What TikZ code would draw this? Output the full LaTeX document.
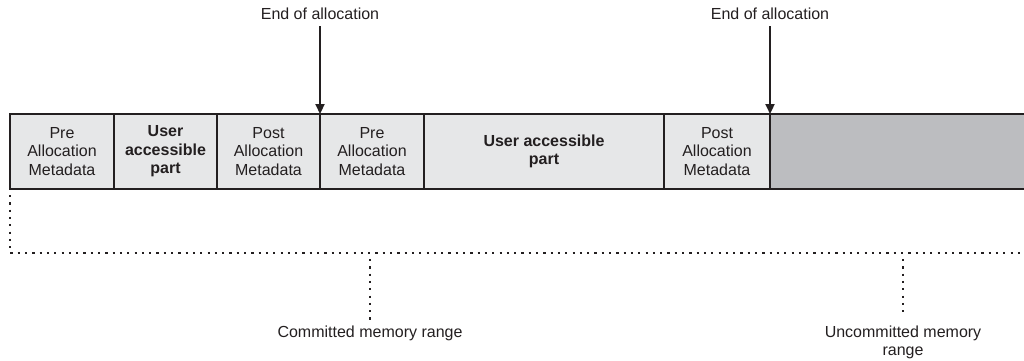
\documentclass[tikz,border=0pt]{standalone}
\usepackage{fontspec}
\setmainfont{Liberation Sans}
\usetikzlibrary{arrows.meta}
\definecolor{lightcell}{HTML}{E6E7E8}
\definecolor{darkcell}{HTML}{BCBDC0}
\definecolor{ink}{HTML}{231F20}
\begin{document}
\begin{tikzpicture}[x=1pt,y=-1pt,
  cell/.style={draw=ink,line width=2.5pt,fill=lightcell,minimum height=75pt,inner sep=0pt,outer sep=0pt,
    align=center,font=\fontsize{16}{18.5}\selectfont,text=ink},
  ucell/.style={cell,font=\fontsize{16}{18.5}\selectfont\bfseries},
  endarrow/.style={draw=ink,line width=2.2pt,-{Triangle[length=10pt,width=9pt]}},
  dotline/.style={draw=ink,line width=2.4pt,dash pattern=on 2.2pt off 5.1pt},
  lbl/.style={font=\fontsize{16}{18}\selectfont,text=ink,align=center,inner sep=0pt}]
\useasboundingbox (0,0) rectangle (1024,360);
% uncommitted area (no right border)
\fill[darkcell] (770,114) rectangle (1024,189);
\draw[ink,line width=2.5pt] (770,114) -- (1025,114) (770,189) -- (1025,189);
\node[cell,minimum width=104pt] (pre1) at (62,151.5) {Pre\\Allocation\\Metadata};
\node[ucell,minimum width=103pt] (usr1) at (165.5,151.5) {User\\accessible\\part};
\node[cell,minimum width=103pt] (post1) at (268.5,151.5) {Post\\Allocation\\Metadata};
\node[cell,minimum width=104pt] (pre2) at (372,151.5) {Pre\\Allocation\\Metadata};
\node[ucell,minimum width=240pt] (usr2) at (544,151.5) {User accessible\\part};
\node[cell,minimum width=106pt] (post2) at (717,151.5) {Post\\Allocation\\Metadata};
% end of allocation markers
\node[lbl] (end1) at (320,14) {End of allocation};
\node[lbl] (end2) at (770,14) {End of allocation};
\draw[endarrow] (end1.south) ++(0,6) -- (post1.north east);
\draw[endarrow] (end2.south) ++(0,6) -- (post2.north east);
% committed range bracket
\coordinate (bl) at (10,253);
\coordinate (br) at (1024,253);
\coordinate (ct) at (370,253);
\coordinate (ut) at (903,253);
\draw[dotline] (pre1.south west) ++(0,6) -- (bl) -- (br);
\node[lbl] (com) at (370,333) {Committed memory range};
\node[lbl] (uncom) at (903,342) {Uncommitted memory\\range};
\draw[dotline] (ct) ++(0,6) -- ([yshift=4pt]com.north);
\draw[dotline] (ut) ++(0,6) -- ([yshift=8pt]uncom.north);
\end{tikzpicture}
\end{document}
